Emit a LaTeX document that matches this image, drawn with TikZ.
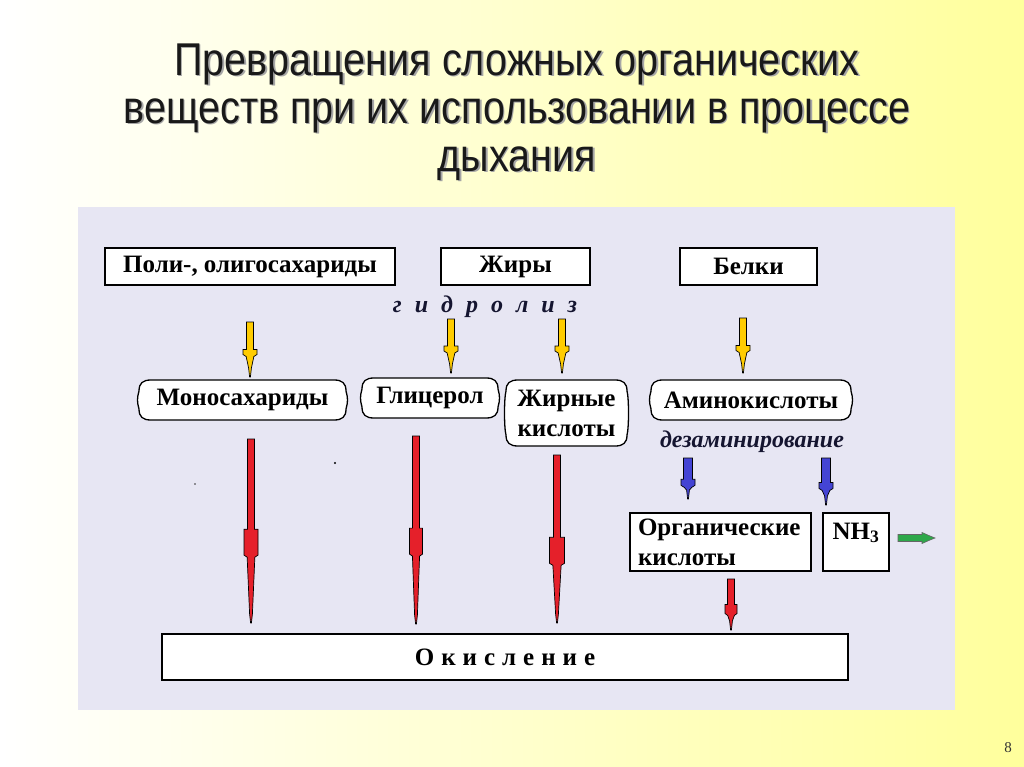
\documentclass[tikz,border=0pt]{standalone}
\usepackage{fontspec}
\setmainfont{Liberation Serif}
\newfontfamily\titlefont[FakeStretch=0.86]{Liberation Sans}
\usetikzlibrary{calc}
\definecolor{panel}{HTML}{E7E6F3}
\definecolor{gold}{HTML}{FFCC00}
\definecolor{redar}{HTML}{E5202A}
\definecolor{bluear}{HTML}{4444D4}
\definecolor{greenar}{HTML}{2EA84A}
\definecolor{ink}{HTML}{151530}
\definecolor{bgyellow}{HTML}{FFFF9C}
\newcommand\lgap{\hspace{13pt}}
\newcommand\ogap{\hspace{7pt}}
% #1 colour, #2 start, #3 end, #4 head fraction, #5 shaft half, #6 head half, #7 hold length
\newcommand\darrow[7]{%
  \filldraw[fill=#1, draw=black, line width=0.7pt]
  let \p1=(#2), \p2=(#3), \n1={\y1+#4*(\y2-\y1)} in
  (\x1-#5,\y1) -- (\x1+#5,\y1) -- (\x1+#5,\n1) -- (\x1+#6,\n1) -- (\x1+#6,\n1-#7)
  -- (\x1+0.55*#6,\n1-#7-2pt)
  -- (\x1+1.4pt,\y2+9pt) -- (\x1+0.4pt,\y2) -- (\x1-0.4pt,\y2) -- (\x1-1.4pt,\y2+9pt)
  -- (\x1-0.55*#6,\n1-#7-2pt)
  -- (\x1-#6,\n1-#7) -- (\x1-#6,\n1) -- (\x1-#5,\n1) -- cycle;}
% scroll-like rounded box outline: x0,y0,x1,y1
\newcommand\scrollshape[4]{%
  \filldraw[fill=white, draw=black, line width=1.3pt]
  (#1+11,#2) -- (#3-11,#2)
  .. controls (#3-3,#2) and (#3+1,#2+3) .. (#3+1,#2+11)
  .. controls (#3+3,#2+18) and (#3+3,#4-18) .. (#3+1,#4-11)
  .. controls (#3+1,#4-3) and (#3-3,#4) .. (#3-11,#4)
  -- (#1+11,#4)
  .. controls (#1+3,#4) and (#1-1,#4-3) .. (#1-1,#4-11)
  .. controls (#1-3,#4-18) and (#1-3,#2+18) .. (#1-1,#2+11)
  .. controls (#1-1,#2+3) and (#1+3,#2) .. (#1+11,#2) -- cycle;}
\begin{document}
\begin{tikzpicture}[x=1pt,y=-1pt,
  boxfont/.style={font=\bfseries\fontsize{25}{30}\selectfont},
  box/.style={boxfont, draw=black, line width=1.3pt, fill=white, inner sep=0pt},
  roundbox/.style={boxfont, inner sep=0pt},
  slidetitle/.style={font=\titlefont\fontsize{46}{48}\selectfont, align=center},
  itlabel/.style={font=\bfseries\itshape\fontsize{24}{28}\selectfont, text=ink}]
\useasboundingbox (0,0) rectangle (1024,767);
\shade[left color=white, right color=bgyellow] (0,0) rectangle (1024,767);
% title
\node[slidetitle, text=black!35] (titleshadow) at (518.5,113.5) {Превращения сложных органических\\веществ при их использовании в процессе\\дыхания};
\node[slidetitle, text=black!90] (title) at (517,112) {Превращения сложных органических\\веществ при их использовании в процессе\\дыхания};
% panel
\fill[panel] (78,207) rectangle (955,710);
% boxes
\node[box, minimum width=290pt, minimum height=37pt] (poly) at (250,266.5) {Поли-, олигосахариды};
\node[box, minimum width=149pt, minimum height=37pt] (fats) at (515.5,266.5) {Жиры};
\node[box, minimum width=137pt, minimum height=37pt] (prot) at (748.5,266.5) {Белки};
\node[itlabel] (hydro) at (485,307) {г\lgap и\lgap д\lgap р\lgap о\lgap л\lgap и\lgap з};
\scrollshape{140}{380}{345}{420}
\node[roundbox, minimum width=205pt, minimum height=40pt] (mono) at (242.5,400) {Моносахариды};
\scrollshape{363}{378}{497}{418}
\node[roundbox, minimum width=134pt, minimum height=40pt] (glyc) at (430,398) {Глицерол};
\scrollshape{507}{380}{626}{446}
\node[roundbox, minimum width=119pt, minimum height=66pt, align=center] (fa) at (566.5,413) {Жирные\\кислоты};
\scrollshape{652}{380}{850}{420}
\node[roundbox, minimum width=198pt, minimum height=40pt] (amino) at (751,400) {Аминокислоты};
\node[itlabel] (deam) at (752,442) {дезаминирование};
\node[box, text width=165pt, inner xsep=8pt, minimum height=58pt, align=left] (org) at (720.5,542) {Органические\\кислоты};
\node[box, minimum width=66pt, minimum height=58pt] (nh3) at (856,542) {\raisebox{22pt}{NH\textsubscript{3}}};
\node[box, minimum width=686pt, minimum height=46pt] (oxid) at (505,657) {О\ogap к\ogap и\ogap с\ogap л\ogap е\ogap н\ogap и\ogap е};
% arrow end points
\coordinate (y1s) at (250,322); \coordinate (y1e) at (250,377);
\coordinate (y2s) at (451,319); \coordinate (y2e) at (451,373);
\coordinate (y3s) at (562,319); \coordinate (y3e) at (562,373);
\coordinate (y4s) at (743,318); \coordinate (y4e) at (743,373);
\coordinate (b1s) at (688,458); \coordinate (b1e) at (688,499);
\coordinate (b2s) at (826,458); \coordinate (b2e) at (826,505);
\coordinate (r1s) at (251,439); \coordinate (r1e) at (251,623);
\coordinate (r2s) at (416,436); \coordinate (r2e) at (416,624);
\coordinate (r3s) at (557,455); \coordinate (r3e) at (557,623);
\coordinate (r4s) at (731,579); \coordinate (r4e) at (731,630);
\coordinate (gs) at (898,538); \coordinate (ge) at (935,538);
% yellow
\darrow{gold}{y1s}{y1e}{0.5}{3.5pt}{7pt}{5pt}
\darrow{gold}{y2s}{y2e}{0.5}{3.5pt}{7pt}{5pt}
\darrow{gold}{y3s}{y3e}{0.5}{3.5pt}{7pt}{5pt}
\darrow{gold}{y4s}{y4e}{0.5}{3.5pt}{7pt}{5pt}
% blue
\darrow{bluear}{b1s}{b1e}{0.52}{4.5pt}{7pt}{6pt}
\darrow{bluear}{b2s}{b2e}{0.52}{4.5pt}{7pt}{6pt}
% red
\darrow{redar}{r1s}{r1e}{0.49}{3.5pt}{7pt}{26pt}
\darrow{redar}{r2s}{r2e}{0.49}{3.5pt}{6.5pt}{26pt}
\darrow{redar}{r3s}{r3e}{0.49}{3.5pt}{7.5pt}{26pt}
\darrow{redar}{r4s}{r4e}{0.5}{3.5pt}{6pt}{9pt}
% green
\filldraw[fill=greenar, draw=black!60, line width=0.6pt]
  let \p1=(gs), \p2=(ge) in
  (\x1,\y1+3.5pt) -- (\x2-13pt,\y1+3.5pt) -- (\x2-13pt,\y1+5.5pt) -- (\x2-5pt,\y1+2pt) -- (\x2,\y1)
  -- (\x2-5pt,\y1-2pt) -- (\x2-13pt,\y1-5.5pt) -- (\x2-13pt,\y1-3.5pt) -- (\x1,\y1-3.5pt) -- cycle;
% stray dots
\fill[black!80] (195,484) circle (0.8pt);
\fill[black] (335,463) circle (1.2pt);
% page number
\node[font=\fontsize{15}{18}\selectfont, text=black!80] (pagenum) at (1008,748) {8};
\end{tikzpicture}
\end{document}
